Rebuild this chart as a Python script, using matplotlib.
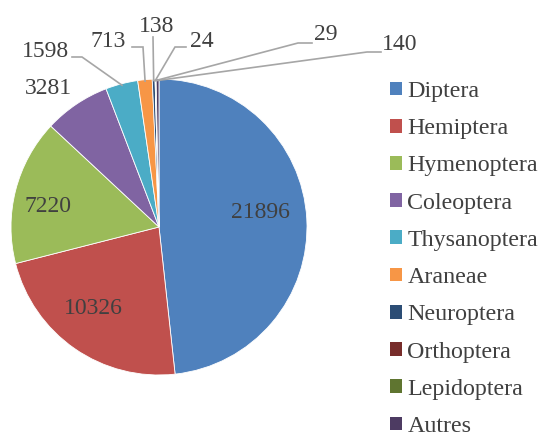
import matplotlib
matplotlib.use("Agg")
import matplotlib.pyplot as plt
import numpy as np
from matplotlib.patches import Patch

categories = ["Diptera", "Hemiptera", "Hymenoptera", "Coleoptera", "Thysanoptera",
              "Araneae", "Neuroptera", "Orthoptera", "Lepidoptera", "Autres"]
values = [21896, 10326, 7220, 3281, 1598, 713, 138, 24, 29, 140]
colors = ["#4F81BD", "#C0504D", "#9BBB59", "#8064A2", "#4BACC6",
          "#F79646", "#2C4D75", "#772C2A", "#5F7530", "#4D3B62"]

W, H = 540, 440
CX, CY, R = 159, 227, 148

plt.rcParams['font.family'] = ['Liberation Serif', 'DejaVu Serif']
TXT = "#404040"
LINE = "#A6A6A6"
FS_LAB = 17
FS_LEG = 17.3

fig = plt.figure(figsize=(W / 100, H / 100), dpi=100)
ax = fig.add_axes([(CX - R) / W, (H - CY - R) / H, 2 * R / W, 2 * R / H])
wedges, _ = ax.pie(values, colors=colors, startangle=90, counterclock=False,
                   wedgeprops=dict(edgecolor="white", linewidth=0.6))
ax.set_xlim(-1, 1)
ax.set_ylim(-1, 1)
ax.set_aspect('auto')
ax.axis('off')


def px(x, y):
    return (x - CX) / R, (CY - y) / R


# label layout (pixel positions): inside / free labels
free_pos = {0: (260, 213), 1: (93, 309), 2: (48, 206), 3: (48, 89)}
for i, (x, y) in free_pos.items():
    dx, dy = px(x, y)
    ax.text(dx, dy, str(values[i]), ha='center', va='center', fontsize=FS_LAB,
            color=TXT, clip_on=False)

# labels with leader lines: text pos, line start, elbow
lead = {
    4: dict(text=(45, 52), start=(72, 57), elbow=(82, 57)),
    5: dict(text=(108, 42), start=(132, 47), elbow=(143, 47)),
    6: dict(text=(157, 27), start=(153, 37), elbow=(153, 37)),
    7: dict(text=(202, 42), start=(186, 47), elbow=(175, 47)),
    8: dict(text=(326, 35), start=(312, 43), elbow=(298, 43)),
    9: dict(text=(400, 45), start=(381, 52), elbow=(367, 52)),
}
for i, d in lead.items():
    w = wedges[i]
    mid = np.deg2rad((w.theta1 + w.theta2) / 2)
    ex, ey = 0.99 * np.cos(mid), 0.99 * np.sin(mid)
    sx, sy = px(*d['start'])
    bx, by = px(*d['elbow'])
    ax.plot([sx, bx, ex], [sy, by, ey], color=LINE, lw=1.2, clip_on=False,
            solid_joinstyle='miter')
    tx, ty = px(*d['text'])
    ax.text(tx, ty, str(values[i]), ha='center', va='center', fontsize=FS_LAB,
            color=TXT, clip_on=False)

# legend
handles = [Patch(facecolor=c, edgecolor='none') for c in colors]
leg = fig.legend(handles, categories, loc='upper left',
                 bbox_to_anchor=(390 / W, 1 - 81 / H), frameon=False,
                 fontsize=FS_LEG, handlelength=0.5, handleheight=0.5,
                 handletextpad=0.22, labelspacing=0.675, borderpad=0, borderaxespad=0)
for t in leg.get_texts():
    t.set_color(TXT)

fig.savefig("out.png", dpi=100, facecolor="white")
